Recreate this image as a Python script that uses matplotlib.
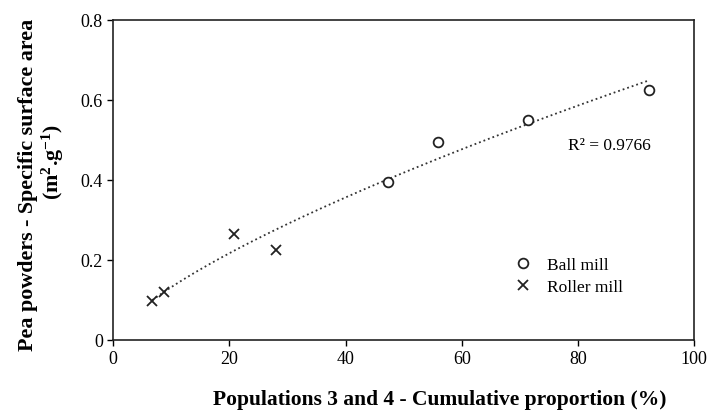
import numpy as np
import matplotlib
matplotlib.use("Agg")
import matplotlib.pyplot as plt

ball_x = [47.3, 55.9, 71.4, 92.3]
ball_y = [0.394, 0.494, 0.550, 0.624]
roller_x = [6.7, 8.8, 20.8, 28.0]
roller_y = [0.097, 0.119, 0.264, 0.224]
xticks = [0, 20, 40, 60, 80, 100]
yticks = [0, 0.2, 0.4, 0.6, 0.8]
ytick_labels = ["0", "0.2", "0.4", "0.6", "0.8"]
r2_text = "R² = 0.9766"

plt.rcParams['font.family'] = ['Liberation Serif', 'DejaVu Serif']
plt.rcParams['mathtext.fontset'] = 'custom'
plt.rcParams['mathtext.rm'] = 'Liberation Serif'
plt.rcParams['mathtext.bf'] = 'Liberation Serif:bold'
plt.rcParams['mathtext.default'] = 'bf'

fig = plt.figure(figsize=(7.09, 4.14), dpi=100)
ax = fig.add_axes([0.1598, 0.1775, 0.8190, 0.7725])

# power trendline fitted on all points
all_x = np.array(roller_x + ball_x)
all_y = np.array(roller_y + ball_y)
b, lna = np.polyfit(np.log(all_x), np.log(all_y), 1)
xs = np.linspace(all_x.min(), all_x.max(), 200)
ax.plot(xs, np.exp(lna) * xs ** b, linestyle=':', color='#333333', lw=1.3, zorder=1)

ax.plot(ball_x, ball_y, 'o', mfc='white', mec='#222222', mew=1.3, ms=7,
        linestyle='none', label='Ball mill', zorder=3)
ax.plot(roller_x, roller_y, 'x', color='#222222', mew=1.3, ms=7,
        linestyle='none', label='Roller mill', zorder=3)

ax.set_xlim(0, 100)
ax.set_ylim(0, 0.8)
ax.set_xticks(xticks)
ax.set_yticks(yticks)
ax.set_yticklabels(ytick_labels)
ax.tick_params(direction='out', length=4, width=1, labelsize=13, colors='black')
for s in ax.spines.values():
    s.set_linewidth(1.2)
    s.set_color('#222222')

ax.text(0.855, 0.608, r2_text, transform=ax.transAxes, ha='center', va='center', fontsize=12.5)

leg = ax.legend(loc='lower right', bbox_to_anchor=(0.905, 0.09), frameon=False,
                fontsize=12.5, handlelength=1.0, handletextpad=0.9, labelspacing=0.35)

ax.set_xlabel('Populations 3 and 4 - Cumulative proportion (%)', fontsize=15.5,
              fontweight='bold')
ax.xaxis.set_label_coords(0.563, -0.155)
ax.xaxis.label.set_va('top')

# two-line y label placed as separate texts (figure pixel coords / size)
W, H = 709, 414
fig.text(28 / W, 1 - 185 / H, 'Pea powders - Specific surface area', rotation=90,
         ha='center', va='center', fontsize=15.8, fontweight='bold')
fig.text(53 / W, 1 - 162 / H, '(m$^{2}$.g$^{-1}$)', rotation=90,
         ha='center', va='center', fontsize=15.8, fontweight='bold')

fig.savefig('out.png', dpi=100)
